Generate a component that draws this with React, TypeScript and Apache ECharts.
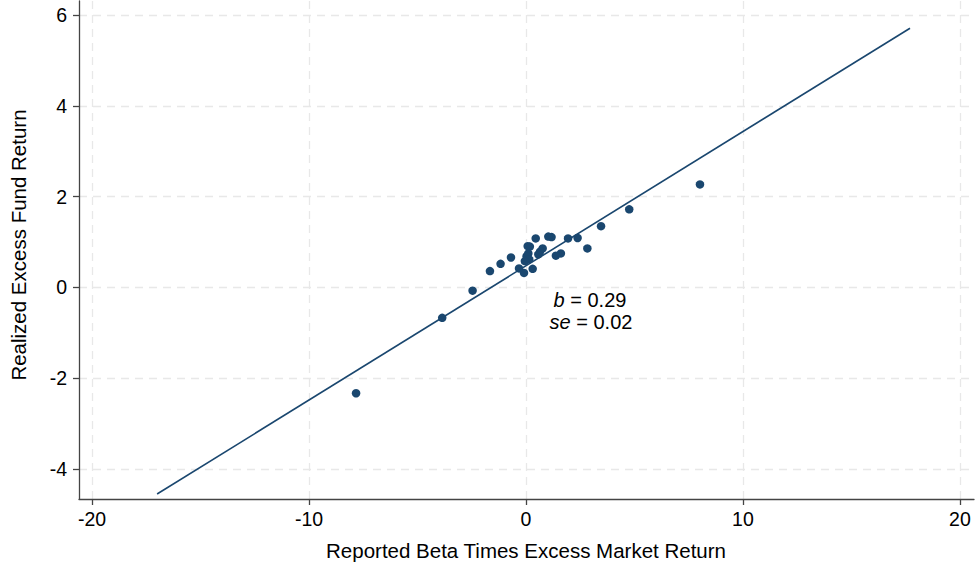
import React, { useEffect, useRef } from "react";
import * as echarts from "echarts";

const xValues = [8.02, 4.76, 3.46, 2.83, 2.38, 1.94, 1.61, 1.38, 1.18, 1.03, 0.77, 0.65, 0.57, 0.45, 0.31, 0.18, 0.08, 0.11, 0.03, -0.09, -0.32, -0.69, -1.17, -1.66, -2.46, -3.86, -7.83, 0.15, -0.05];
const yValues = [2.27, 1.72, 1.35, 0.86, 1.09, 1.08, 0.75, 0.7, 1.11, 1.12, 0.86, 0.79, 0.73, 1.08, 0.41, 0.9, 0.91, 0.75, 0.69, 0.32, 0.42, 0.66, 0.52, 0.36, -0.07, -0.67, -2.33, 0.62, 0.58];
const fitLine = [[-17.0, -4.55], [17.7, 5.71]];
const xTicks = [-20, -10, 0, 10, 20];
const yTicks = [-4, -2, 0, 2, 4, 6];
const xTitle = "Reported Beta Times Excess Market Return";
const yTitle = "Realized Excess Fund Return";

const NAVY = "#1a476f";
const FONT = "Liberation Sans, Arial, Helvetica, sans-serif";

export default function App() {
  const ref = useRef<HTMLDivElement>(null);
  useEffect(() => {
    if (!ref.current) return;
    const chart = echarts.init(ref.current, null, { renderer: "svg" });
    const points = xValues.map((x, i) => [x, yValues[i]]);
    chart.setOption({
      animation: false,
      backgroundColor: "#ffffff",
      textStyle: { fontFamily: FONT },
      grid: { left: 79, right: 2, top: 1, bottom: 66 },
      xAxis: {
        type: "value",
        min: -20.6,
        max: 20.65,
        axisLine: { onZero: false, lineStyle: { color: "#444", width: 1.3 } },
        axisTick: { show: true, length: 6, customValues: xTicks, lineStyle: { color: "#444", width: 1.3 } },
        axisLabel: { customValues: xTicks, color: "#000", fontSize: 19.5, margin: 10, fontFamily: FONT },
        splitLine: { show: true, lineStyle: { color: "#e8e8e8", type: [8, 6], width: 1.3 } },
      },
      yAxis: {
        type: "value",
        min: -4.66,
        max: 6.31,
        axisLine: { show: true, onZero: false, lineStyle: { color: "#444", width: 1.3 } },
        axisTick: { show: true, length: 6, customValues: yTicks, lineStyle: { color: "#444", width: 1.3 } },
        axisLabel: { customValues: yTicks, color: "#000", fontSize: 19.5, margin: 12, fontFamily: FONT },
        splitLine: { show: true, lineStyle: { color: "#e8e8e8", type: [8, 6], width: 1.3 } },
      },
      graphic: [
        { type: "text", x: 526, y: 550, style: { text: xTitle, fill: "#000", font: `20.5px ${FONT}`, align: "center", verticalAlign: "middle" } },
        { type: "text", x: 18, y: 245, rotation: Math.PI / 2, style: { text: yTitle, fill: "#000", font: `20.5px ${FONT}`, align: "center", verticalAlign: "middle" } },
        {
          type: "text", x: 590, y: 300,
          style: { text: "{i|b} = 0.29", align: "center", verticalAlign: "middle", font: `20px ${FONT}`, fill: "#000", rich: { i: { fontStyle: "italic", fontSize: 20, fontFamily: FONT } } },
        },
        {
          type: "text", x: 591, y: 322,
          style: { text: "{i|se} = 0.02", align: "center", verticalAlign: "middle", font: `20px ${FONT}`, fill: "#000", rich: { i: { fontStyle: "italic", fontSize: 20, fontFamily: FONT } } },
        },
      ],
      series: [
        {
          type: "line",
          data: fitLine,
          showSymbol: false,
          symbol: "none",
          lineStyle: { color: NAVY, width: 1.6 },
          silent: true,
        },
        {
          type: "scatter",
          data: points,
          symbol: "circle",
          symbolSize: 8.5,
          itemStyle: { color: NAVY, opacity: 1 },
        },
      ],
    });
    return () => chart.dispose();
  }, []);
  return <div ref={ref} style={{ width: 976, height: 565, position: "absolute", left: 0, top: 0 }} />;
}
